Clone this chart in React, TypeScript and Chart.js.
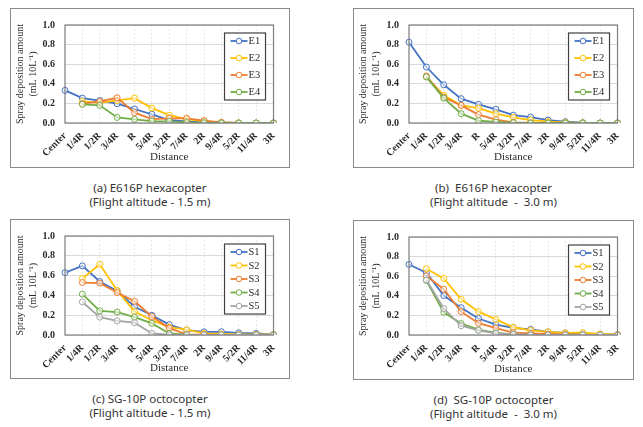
import React, { useEffect, useRef } from "react";
import { Chart, registerables } from "chart.js";
Chart.register(...registerables);

const categories = ["Center", "1/4R", "1/2R", "3/4R", "R", "5/4R", "3/2R", "7/4R", "2R", "9/4R", "5/2R", "11/4R", "3R"];
const yMin = 0;
const yMax = 1.0;
const yStep = 0.2;

// (a) E616P, 1.5 m
const aE1 = [0.333, 0.254, 0.229, 0.197, 0.143, 0.089, 0.03, 0.016, 0.006, 0.003, 0, 0, 0];
const aE2 = [null, 0.22, 0.206, 0.23, 0.254, 0.152, 0.08, 0.04, 0.016, 0.005, 0, 0, 0];
const aE3 = [null, 0.197, 0.22, 0.257, 0.105, 0.04, 0.048, 0.048, 0.025, 0.006, 0, 0, 0];
const aE4 = [null, 0.19, 0.18, 0.057, 0.038, 0.02, 0.016, 0.006, 0.003, 0, 0, 0, 0];
// (b) E616P, 3.0 m
const bE1 = [0.825, 0.571, 0.39, 0.248, 0.19, 0.14, 0.08, 0.06, 0.029, 0.013, 0.003, 0, 0];
const bE2 = [null, 0.47, 0.283, 0.18, 0.152, 0.095, 0.057, 0.03, 0.013, 0.005, 0, 0, 0];
const bE3 = [null, 0.48, 0.263, 0.18, 0.086, 0.035, 0.006, 0, 0, 0, 0, 0, 0];
const bE4 = [null, 0.47, 0.254, 0.095, 0.025, 0.01, 0.003, 0, 0, 0, 0, 0, 0];
// (c) SG-10P, 1.5 m
const cS1 = [0.629, 0.698, 0.54, 0.444, 0.286, 0.2, 0.105, 0.048, 0.032, 0.032, 0.022, 0.016, 0.006];
const cS2 = [null, 0.571, 0.714, 0.45, 0.238, 0.149, 0.079, 0.054, 0.016, 0.01, 0.006, 0.006, 0.006];
const cS3 = [null, 0.53, 0.524, 0.429, 0.34, 0.187, 0.07, 0.006, 0.003, 0, 0, 0, 0];
const cS4 = [null, 0.413, 0.244, 0.232, 0.181, 0.117, 0.016, 0.003, 0, 0, 0, 0, 0];
const cS5 = [null, 0.333, 0.181, 0.143, 0.124, 0.016, 0.003, 0, 0, 0, 0, 0, 0];
// (d) SG-10P, 3.0 m
const dS1 = [0.72, 0.635, 0.403, 0.279, 0.168, 0.105, 0.073, 0.057, 0.032, 0.022, 0.01, 0.006, 0.003];
const dS2 = [null, 0.676, 0.578, 0.365, 0.238, 0.159, 0.079, 0.048, 0.032, 0.022, 0.025, 0.01, 0.006];
const dS3 = [null, 0.603, 0.467, 0.238, 0.12, 0.07, 0.025, 0.016, 0.01, 0.006, 0, 0, 0];
const dS4 = [null, 0.556, 0.232, 0.117, 0.054, 0.022, 0.006, 0, 0, 0, 0, 0, 0];
const dS5 = [null, 0.562, 0.27, 0.095, 0.048, 0.016, 0.006, 0, 0, 0, 0, 0, 0];

const BLUE = "#4472C4";
const YELLOW = "#FFC000";
const ORANGE = "#ED7D31";
const GREEN = "#70AD47";
const GRAY = "#A5A5A5";

type Series = { label: string; data: (number | null)[]; color: string };

const panelA: Series[] = [
  { label: "E1", data: aE1, color: BLUE },
  { label: "E2", data: aE2, color: YELLOW },
  { label: "E3", data: aE3, color: ORANGE },
  { label: "E4", data: aE4, color: GREEN },
];
const panelB: Series[] = [
  { label: "E1", data: bE1, color: BLUE },
  { label: "E2", data: bE2, color: YELLOW },
  { label: "E3", data: bE3, color: ORANGE },
  { label: "E4", data: bE4, color: GREEN },
];
const panelC: Series[] = [
  { label: "S1", data: cS1, color: BLUE },
  { label: "S2", data: cS2, color: YELLOW },
  { label: "S3", data: cS3, color: ORANGE },
  { label: "S4", data: cS4, color: GREEN },
  { label: "S5", data: cS5, color: GRAY },
];
const panelD: Series[] = [
  { label: "S1", data: dS1, color: BLUE },
  { label: "S2", data: dS2, color: YELLOW },
  { label: "S3", data: dS3, color: ORANGE },
  { label: "S4", data: dS4, color: GREEN },
  { label: "S5", data: dS5, color: GRAY },
];

const SERIF = "'Liberation Serif', 'Times New Roman', serif";
const TEXT = "#2b2b2b";

const frameLegendPlugin = {
  id: "frameLegend",
  afterDraw(chart: any, _args: any, opts: any) {
    const { ctx, chartArea } = chart;
    ctx.save();
    ctx.strokeStyle = "#7f7f7f";
    ctx.lineWidth = 1.2;
    ctx.strokeRect(chartArea.left, chartArea.top, chartArea.right - chartArea.left, chartArea.bottom - chartArea.top);
    const ds = chart.data.datasets;
    const w = opts.width;
    const h = opts.height;
    const x = chartArea.right - opts.right - w;
    const y = chartArea.top + opts.top;
    ctx.fillStyle = "#ffffff";
    ctx.fillRect(x, y, w, h);
    ctx.strokeStyle = "#404040";
    ctx.lineWidth = 1.2;
    ctx.strokeRect(x, y, w, h);
    const n = ds.length;
    const step = (h - 16) / (n - 1);
    ctx.font = "10.5px " + SERIF;
    ctx.textBaseline = "middle";
    ctx.textAlign = "left";
    for (let i = 0; i < n; i++) {
      const yy = y + 8 + i * step;
      const c = ds[i].borderColor;
      ctx.strokeStyle = c;
      ctx.lineWidth = 1.8;
      ctx.beginPath();
      ctx.moveTo(x + 6, yy);
      ctx.lineTo(x + 23, yy);
      ctx.stroke();
      ctx.beginPath();
      ctx.arc(x + 14.5, yy, 2.8, 0, Math.PI * 2);
      ctx.fillStyle = "#ffffff";
      ctx.fill();
      ctx.lineWidth = 1;
      ctx.stroke();
      ctx.fillStyle = TEXT;
      ctx.fillText(ds[i].label, x + 24, yy + 0.5);
    }
    ctx.restore();
  },
};

type PanelProps = {
  series: Series[];
  box: { left: number; top: number; w: number; h: number };
  plot: { left: number; right: number; top: number; bottom: number };
  legendH: number;
  caption1: string;
  caption2: string;
};

function Panel({ series, box, plot, legendH, caption1, caption2 }: PanelProps) {
  const ref = useRef<HTMLCanvasElement | null>(null);
  const cw = box.w - 2;
  const ch = box.h - 2;
  const cl = box.left + 1;
  const ct = box.top + 1;
  useEffect(() => {
    if (!ref.current) return;
    const yAxisW = plot.left - cl;
    const padRight = cl + cw - plot.right;
    const padTop = plot.top - ct;
    const xAxisH = ct + ch - plot.bottom;
    const chart = new Chart(ref.current, {
      type: "line",
      data: {
        labels: categories,
        datasets: series.map((s, i) => ({
          label: s.label,
          data: s.data,
          borderColor: s.color,
          backgroundColor: s.color,
          borderWidth: 1.8,
          pointRadius: 3,
          pointBorderWidth: 1,
          pointBackgroundColor: "rgba(255,255,255,0.55)",
          pointBorderColor: s.color,
          tension: 0,
          order: -i,
        })),
      },
      options: {
        responsive: false,
        animation: false,
        events: [],
        layout: { padding: { left: 0, right: padRight, top: padTop, bottom: 0 } },
        plugins: {
          legend: { display: false },
          tooltip: { enabled: false },
          frameLegend: { right: 8, top: 8, width: 41, height: legendH },
        } as any,
        scales: {
          x: {
            type: "category",
            offset: false,
            grid: { color: "#e8e8e8", drawTicks: false },
            border: { display: false, dash: [2, 2] },
            ticks: {
              autoSkip: false,
              maxRotation: 45,
              minRotation: 45,
              padding: 7,
              color: TEXT,
              font: { family: SERIF, size: 10, weight: "bold" },
            },
            title: {
              display: true,
              text: "Distance",
              color: TEXT,
              font: { family: SERIF, size: 11, lineHeight: "13px" },
              padding: { top: 0, bottom: 3.5 },
            },
            afterFit: (s: any) => {
              s.height = xAxisH;
            },
          },
          y: {
            min: yMin,
            max: yMax,
            grid: { color: "#d9d9d9", drawTicks: false },
            border: { display: false },
            ticks: {
              stepSize: yStep,
              padding: 10,
              color: TEXT,
              font: { family: SERIF, size: 10, weight: "bold" },
              callback: (v: any) => Number(v).toFixed(1),
            },
            title: {
              display: true,
              text: ["Spray deposition amount", "(mL 10L\u207B\u00B9)"],
              color: TEXT,
              font: { family: SERIF, size: 10, lineHeight: "13px" },
              padding: { top: 3, bottom: 0 },
            },
            afterFit: (s: any) => {
              s.width = yAxisW;
            },
          },
        },
      },
      plugins: [frameLegendPlugin],
    } as any);
    return () => chart.destroy();
  }, []);
  const capCenter = box.left + box.w / 2;
  return (
    <>
      <div
        style={{
          position: "absolute",
          left: box.left,
          top: box.top,
          width: box.w,
          height: box.h,
          border: "1px solid #8a8a8a",
          boxSizing: "border-box",
          background: "#fff",
        }}
      />
      <canvas
        ref={ref}
        width={cw}
        height={ch}
        style={{ position: "absolute", left: cl, top: ct, width: cw, height: ch }}
      />
      <div
        style={{
          position: "absolute",
          left: capCenter - 150,
          width: 300,
          top: box.top + box.h + 13,
          textAlign: "center",
          fontFamily: "'Noto Sans', sans-serif",
          fontSize: 11.5,
          lineHeight: "13.5px",
          color: "#333",
          whiteSpace: "pre",
        }}
      >
        {caption1}
        {"\n"}
        {caption2}
      </div>
    </>
  );
}

export default function App() {
  return (
    <div style={{ position: "fixed", left: 0, top: 0, width: 643, height: 427, background: "#fff", overflow: "hidden" }}>
      <Panel
        series={panelA}
        box={{ left: 10, top: 8, w: 280, h: 160 }}
        plot={{ left: 65, right: 279, top: 18, bottom: 123 }}
        legendH={67}
        caption1="(a) E616P hexacopter"
        caption2="(Flight altitude - 1.5 m)"
      />
      <Panel
        series={panelB}
        box={{ left: 353, top: 8, w: 281, h: 160 }}
        plot={{ left: 409, right: 623, top: 18, bottom: 123 }}
        legendH={67}
        caption1="(b)  E616P hexacopter"
        caption2="(Flight altitude  -  3.0 m)"
      />
      <Panel
        series={panelC}
        box={{ left: 10, top: 219, w: 280, h: 160 }}
        plot={{ left: 65, right: 279, top: 230, bottom: 335 }}
        legendH={70}
        caption1="(c) SG-10P octocopter"
        caption2="(Flight altitude - 1.5 m)"
      />
      <Panel
        series={panelD}
        box={{ left: 353, top: 220, w: 281, h: 160 }}
        plot={{ left: 409, right: 623, top: 230, bottom: 335 }}
        legendH={70}
        caption1="(d)  SG-10P octocopter"
        caption2="(Flight altitude  -  3.0 m)"
      />
    </div>
  );
}
